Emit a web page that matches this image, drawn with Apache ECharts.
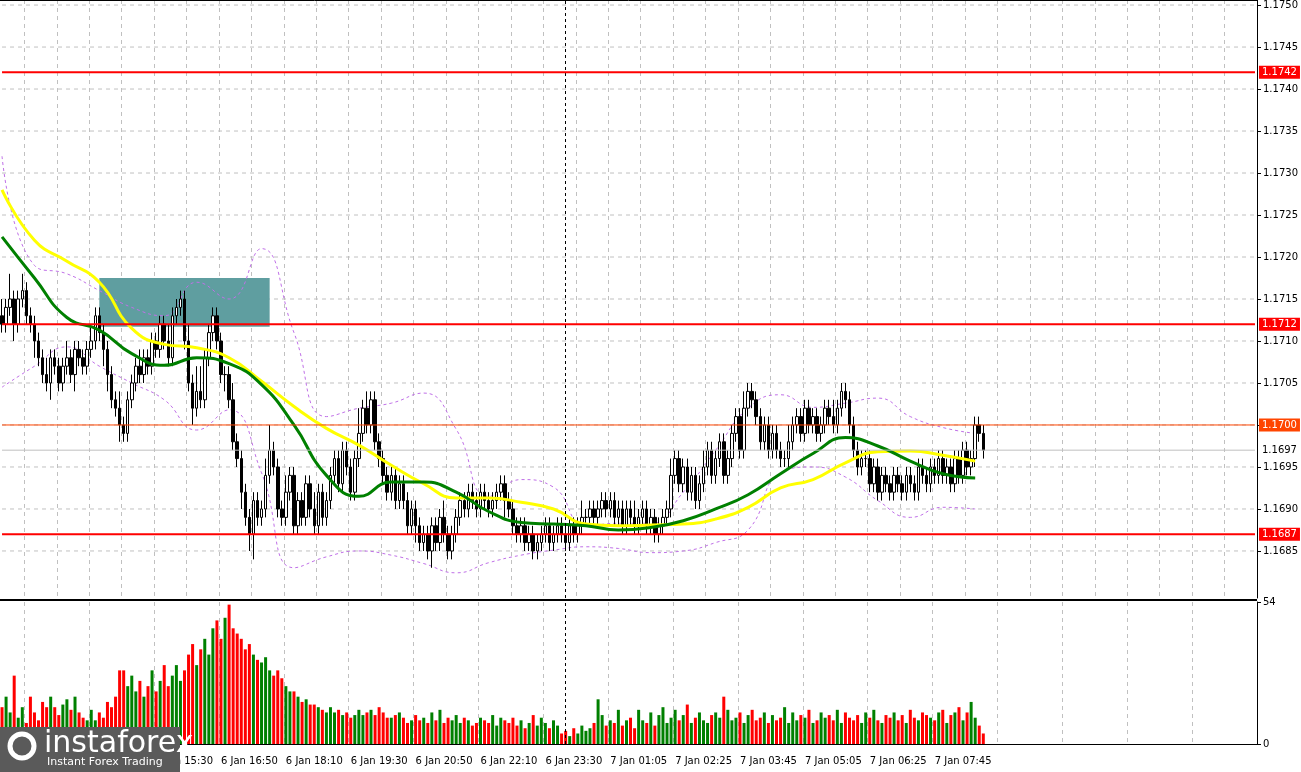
<!DOCTYPE html>
<html><head><meta charset="utf-8">
<script src="https://cdn.jsdelivr.net/npm/echarts@6/dist/echarts.min.js"></script>
<style>html,body{margin:0;padding:0;background:#fff}#c{width:1301px;height:772px}</style>
</head><body><div id="c"></div>
<script>
// closes in pips relative to 1.1700
const firstOpen = 13;
const closes = [12,14,15,12,15,16,13,12, 10,8,6,5,8,7,5, 7,8,6,9,8,7,9,10,13,11, 9,6,3,2,0,-1,3,5,7,6,
 8,7,10,9,12,10,8,13,14, 15,10,5,2,4, 3,8,11,13,10,6, 6,3,-2,-4, -8,-11,-13,-9,-11,-10, -6,-3,-5,-10,
 -11,-8,-6,-12,-9,-11,-7,-10,-12,-8,-11,-9, -6,-4,-7,-3,-5,-8,-4,-1,2,0,3,-2,-4, -6,-8,-6,-9,-7,-9,-12,-10,
 -12,-14,-13,-15,-12,-14,-11,-13,-15,-13,-11,-9,-10, -8,-9,-10,-8,-9,-10,-9,-8,-7,-9,-10,-12,
 -13,-12,-14,-13,-15,-14,-13,-12,-14,-13,-12,-13,-14,-12,-13,-12,-11,
 -11,-10,-11,-10,-9,-10,-9,-11,-10,-12,-10,-11,-12,-11,-10,-12,-11,-13,-12,-11,-10,
 -6,-4,-7,-5,-8,-6,-9,-7,-5,-3,-6,-4,-2,-6,-4,-1, 1,-3,2,4,3,1,-2,0,-3,-1,-3,-4,
 -4,-2,0,1,-1,2,0,1,-1,0,2,1,0,2,4,3,0,-3,-5,-4,
 -4,-7,-5,-8,-6,-7,-8,-6,-7,-8,-6,-7,-8,-5,-6,-7,-5,-6,-4,-6, -5,-7,-4,-6,-3,-5,-4,0,-1,-3];
const upWick = [2,1,3,1,1,2,1,1,1,1, 1,2,1,1,1,1,2,1,1,1, 1,1,2,1,1,1,1,1,1,2, 1,1,1,1,2,1,1,1,1,1,
 1,2,1,1,1,1,2,1,3,3, 1,1,1,1,1,1,1,2,1,1, 1,1,1,1,1,2,3,1,1,1, 2,1,1,1,1,1,1,2,1,1,
 1,1,1,1,1,1,1,1,3,1, 2,1,1,1,1,1,1,1,1,1, 1,1,1,1,1,1,1,1,1,2, 1,1,1,1,1,1,1,1,1,1,
 1,1,1,1,1,1,1,1,1,1, 1,1,1,1,1,1,1,1,1,1, 1,1,1,2,1,1,1,1,1,1, 1,1,1,1,1,1,2,1,1,1,
 1,1,1,1,1,2,1,1,1,1, 1,1,1,2,1,1,1,1,1,1, 1,1,1,2,1,1,1,1,1,1, 1,1,1,1,2,1,1,1,1,1,
 1,1,1,1,1,2,1,1,1,1, 1,1,1,1,1,1,1,1,1,1, 1,1,1,1,1,1,1,1,1,1, 1,1,1,1,1,1,1,1,1,1, 1,1,1];
const dnWick = [1,1,1,2,1,1,1,1,2,1, 1,1,2,1,1,1,1,1,2,1, 1,1,1,1,1,2,2,1,1,2, 1,1,1,1,1,1,1,1,1,1,
 1,1,1,1,1,1,1,2,1,1, 1,1,1,1,1,2,1,1,1,2, 1,2,3,1,1,1,1,1,1,1, 1,1,1,1,1,1,1,1,1,1,
 1,1,1,1,1,1,1,1,1,1, 1,1,1,1,1,1,1,1,1,1, 1,1,2,1,1,1,2,1,1,1, 1,1,1,1,1,1,1,1,1,1,
 1,1,1,1,2,1,1,1,1,1, 1,1,1,1,1,1,1,1,1,1, 1,1,1,1,1,1,1,1,1,1, 1,1,1,1,1,1,1,1,1,1,
 1,1,1,1,1,1,1,1,1,1, 1,1,1,1,1,1,1,1,1,1, 1,1,1,1,1,1,1,1,1,1, 1,1,1,1,1,1,1,1,1,1,
 1,1,1,1,1,1,1,1,1,1, 1,1,1,1,1,1,1,1,1,1, 1,1,1,1,1,1,1,1,1,1, 1,1,1,1,1,1,1,1,1,1, 1,1,1];
const volumes = [14,18,12,26,10,14,8,18,12,9,16,14,18,14,11,15,17,13,18,12,10,9,13,9,12,10,16,
 14,18,28,28, 22,26,20,24,18,22,28,20,24,30, 22,26,30,24,28,34,38,30, 36,40,34,44,47,40,48,53,
 44,42,40,36,38,34,32,31, 33,28,26,28,25,22,20,20, 18,16,17,15,15,14,13,12,14,12,
 13,11,12,10,11,13,11,12,13,11,14,12,10, 10,11,12,10,8,9,11,9,10,8,12,9,13,8,10,9,11,
 8,10,9,7,8,10,9,8,11,7,10,9,8,10,7,9,6,8,11,7,10,8,6,9,7, 4,5,3,6,4,7,5,6,8,
 17,11,7,9,8,13,7,9,10,6,13,9,8,12, 7,11,14,8,10,13,9,11,15,8,10,12, 9,8,11,12,10,18,13,9,10,12,8,11,13,9,
 10,12,8,11,9,10,14,8,12,9,11,10,13,8,9,12,10,11,9,13,8,12,10,9,11,8,12,10,13,9,8,11,10,12,9,11,8,13,10,9,12,11,10,9,12,13,8,11,12,14,9,12,16,10,7,4];
// sampled indicator values (every 8 bars), pips relative to 1.1700
const sampleIdx = [0,8,16,24,32,40,48,56,64,72,80,88,96,104,112,120,128,136,144,152,160,168,176,184,192,200,208,216,224,232,240];
const maSlow = [28,22,19.5,17,11.5,9.6,9.2,8,5.2,2.2,-0.4,-2.4,-4.8,-7,-8.7,-8.7,-9.2,-10,-11.8,-12,-11.9,-11.8,-11.2,-9.8,-7.5,-6.5,-4.5,-3.2,-3.1,-3.6,-4.3];
const maFast = [22.4,17.5,12.8,11.3,8.5,7.1,8,7.3,4.8,0,-6,-8.5,-6.8,-6.8,-8,-10.3,-11.6,-11.8,-12,-12.5,-12.2,-11.4,-10,-8.3,-5.8,-3.4,-1.5,-2.5,-4.3,-5.8,-6.3];
const bandUp = [32,19,18,16,14,13,17,15,21,11,1,2,2.6,3.8,-0.5,-8.5,-6.5,-7.4,-12,-11.7,-11.7,-8,-3,2,3.6,2.1,2.6,3.2,1,-0.3,-1];
const bandDn = [4.5,7,9.3,7,5,3,-0.6,1.8,-5.7,-17,-15.7,-15,-15.5,-16.5,-17.6,-16.4,-15.5,-14.9,-14.5,-14.7,-15.2,-15,-14,-12.5,-5.7,-5,-6.2,-9,-11,-9.8,-10];
const timeLabels = ["6 Jan 12:50","6 Jan 14:10","6 Jan 15:30","6 Jan 16:50","6 Jan 18:10","6 Jan 19:30","6 Jan 20:50","6 Jan 22:10","6 Jan 23:30","7 Jan 01:05","7 Jan 02:25","7 Jan 03:45","7 Jan 05:05","7 Jan 06:25","7 Jan 07:45"];
const priceTicks = [1.1750,1.1745,1.1740,1.1735,1.1730,1.1725,1.1720,1.1715,1.1710,1.1705,1.1700,1.1695,1.1690,1.1685];
const levels = [{v:1.1742,c:'#ff0000',w:2},{v:1.1712,c:'#ff0000',w:2},{v:1.1687,c:'#ff0000',w:2},{v:1.1700,c:'#ff4500',w:1},{v:1.1697,c:'#c0c0c0',w:1}];
const zone = {x0:24,x1:66,y0:1.17117,y1:1.17175};
const cursorBar = 139;

const P = v => +(1.17 + v/10000).toFixed(5);
const N = 310;
const cats = Array.from({length:N},(_,i)=>i);
const candles = closes.map((c,i)=>{const o=i?closes[i-1]:firstOpen;
  return [P(o),P(c),P(Math.min(o,c)-dnWick[i]),P(Math.max(o,c)+upWick[i])];});
const vols = volumes.map((v,i)=>({value:v,itemStyle:{color:(candles[i]&&candles[i][1]<candles[i][0])?'#ff0000':'#008000'}}));
const samp = arr => sampleIdx.map((x,k)=>[x,P(arr[k])]);
const font = 'DejaVu Sans';
const hLine = (v,style,z,endLabel) => ({type:'line',xAxisIndex:0,yAxisIndex:0,data:[[0,v],[N-1,v]],symbol:'none',silent:true,
  lineStyle:style,z:z,endLabel:endLabel||{show:false}});
const gridSeries = priceTicks.map(v=>hLine(v,{color:'#c0c0c0',type:[4,4],width:1},0));
const levelSeries = levels.map(l=>hLine(l.v,{color:l.c,width:l.w,type:'solid'},5,
  {show:true,formatter:l.v.toFixed(4),color:l.c==='#c0c0c0'?'#000':'#fff',backgroundColor:l.c==='#c0c0c0'?'#fff':l.c,
   fontFamily:font,fontSize:10,padding:[2,3,1,3],distance:4}));
const chart = echarts.init(document.getElementById('c'));
chart.setOption({
  animation:false, backgroundColor:'#fff',
  grid:[{left:0,right:44,top:0,height:598},{left:0,right:44,top:602,height:142}],
  xAxis:[
    {type:'category',data:cats,gridIndex:0,boundaryGap:true,axisLine:{show:false},axisTick:{show:false},axisLabel:{show:false},
     splitLine:{show:true,interval:(i)=>i%8===6,lineStyle:{color:'#c0c0c0',type:[4,4]}}},
    {type:'category',data:cats,gridIndex:1,boundaryGap:true,axisLine:{show:true,lineStyle:{color:'#000'}},axisTick:{show:false},
     axisLabel:{interval:(i)=>i%16===6 && i>=38 && i<=230,formatter:(v,i)=>timeLabels[(i-6)/16]||'',align:'left',fontFamily:font,fontSize:10,color:'#000',margin:12},
     splitLine:{show:true,interval:(i)=>i%16===6,lineStyle:{color:'#c0c0c0',type:[4,4]}}}
  ],
  yAxis:[
    {type:'value',gridIndex:0,position:'right',min:1.16794,max:1.17506,splitLine:{show:false},
     axisLine:{show:true,lineStyle:{color:'#000'}},axisTick:{show:true,customValues:priceTicks,length:4},
     axisLabel:{customValues:priceTicks,formatter:v=>v.toFixed(4),fontFamily:font,fontSize:10,color:'#000',margin:6}},
    {type:'value',gridIndex:1,position:'right',min:0,max:54,splitLine:{show:false},
     axisLine:{show:true,lineStyle:{color:'#000'}},axisTick:{show:true,customValues:[0,54],length:4},
     axisLabel:{customValues:[0,54],fontFamily:font,fontSize:10,color:'#000',margin:6}}
  ],
  series:gridSeries.concat([
    {type:'line',xAxisIndex:0,yAxisIndex:0,data:samp(bandUp),smooth:0.5,symbol:'none',lineStyle:{color:'#c070e8',width:1,type:[3,3]},z:1},
    {type:'line',xAxisIndex:0,yAxisIndex:0,data:samp(bandDn),smooth:0.5,symbol:'none',lineStyle:{color:'#c070e8',width:1,type:[3,3]},z:1},
    {type:'candlestick',xAxisIndex:0,yAxisIndex:0,data:candles,barWidth:3,z:3,
     itemStyle:{color:'#ffffff',color0:'#000000',borderColor:'#000',borderColor0:'#000',borderWidth:1},
     markArea:{silent:true,itemStyle:{color:'#5f9ea0',opacity:1},data:[[{xAxis:zone.x0,yAxis:zone.y0},{xAxis:zone.x1,yAxis:zone.y1}]]},
     markLine:{symbol:'none',silent:true,label:{show:false},data:[{xAxis:cursorBar}],lineStyle:{color:'#000',type:[3,3],width:1}}},
    {type:'line',xAxisIndex:0,yAxisIndex:0,data:samp(maSlow),smooth:0.5,symbol:'none',lineStyle:{color:'#ffff00',width:3},z:4},
    {type:'line',xAxisIndex:0,yAxisIndex:0,data:samp(maFast),smooth:0.5,symbol:'none',lineStyle:{color:'#008000',width:3},z:4},
    {type:'bar',xAxisIndex:1,yAxisIndex:1,data:vols,barWidth:3,
     markLine:{symbol:'none',silent:true,label:{show:false},data:[{xAxis:cursorBar}],lineStyle:{color:'#000',type:[3,3],width:1}}}
  ]).concat(levelSeries),
  graphic:[
    {type:'line',shape:{x1:0,y1:600,x2:1257,y2:600},style:{stroke:'#000',lineWidth:2},z:50},
    {type:'line',shape:{x1:0,y1:0.5,x2:1257,y2:0.5},style:{stroke:'#000',lineWidth:1},z:50},
    {type:'group',left:0,top:727,zlevel:2,children:[
      {type:'rect',zlevel:2,shape:{x:0,y:0,width:180,height:45},style:{fill:'#5a5a5a'}},
      {type:'circle',zlevel:2,shape:{cx:22,cy:19,r:12},style:{fill:'none',stroke:'#fff',lineWidth:5}},
      {type:'text',zlevel:2,style:{x:44,y:2,text:'instaforex',fill:'#fff',font:'30px "DejaVu Sans"'}},
      {type:'text',zlevel:2,style:{x:47,y:30,text:'Instant Forex Trading',fill:'#fff',font:'11px "DejaVu Sans"'}}
    ]}
  ]
});
</script></body></html>
